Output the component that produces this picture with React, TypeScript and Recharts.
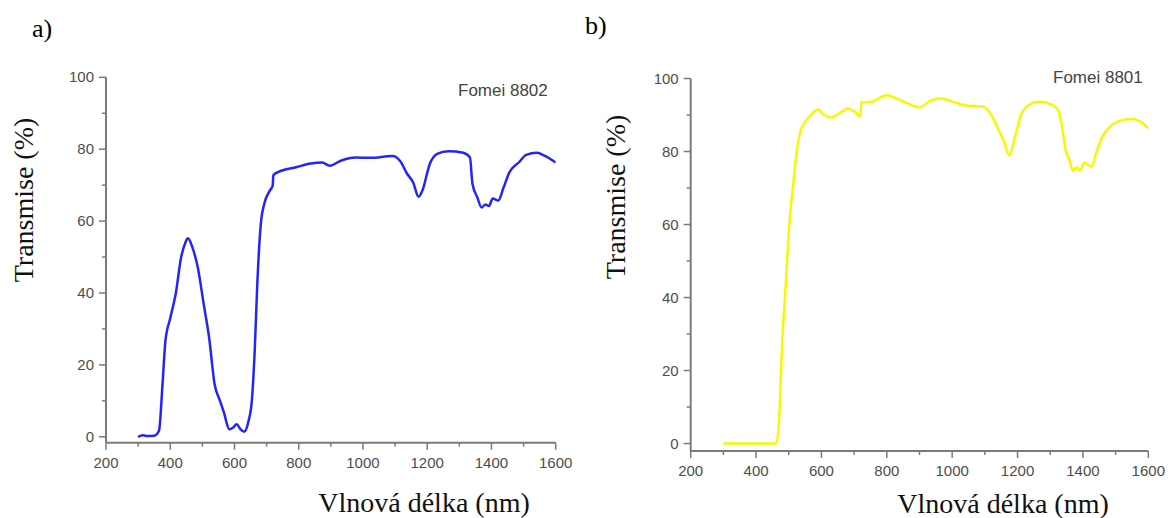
import React from 'react';
import { LineChart, Line, XAxis, YAxis } from 'recharts';

// Fomei 8802 (blue) - wavelength (nm) / transmission (%)
const nm8802 = [
  300, 315, 330, 350, 365, 376, 385, 400, 417, 434, 447, 455, 469, 486, 504, 521, 538, 555, 567, 584,
  595, 607, 618, 630, 644, 654, 663, 671, 682, 694, 711, 719, 721, 746, 792, 838, 873, 896, 931, 977,
  1023, 1092, 1115, 1138, 1156, 1173, 1185, 1208, 1231, 1266, 1312, 1333, 1341, 1356, 1369, 1381, 1392,
  1404, 1421, 1438, 1456, 1485, 1508, 1542, 1565, 1600,
];
const t8802 = [
  0, 0.4, 0.2, 0.3, 1.7, 14.7, 26.7, 33, 39.7, 50, 54, 55.2, 52.7, 47, 37, 27.6, 14.7, 10, 6.8, 2.1,
  2.5, 3.5, 2.2, 1.4, 4.5, 10, 24, 42.5, 59.2, 65.2, 68.6, 69.9, 72.8, 74, 75, 76, 76.3, 75.4, 76.8, 77.7,
  77.6, 78.1, 76.8, 73.1, 70.8, 66.8, 68.5, 75.9, 78.7, 79.4, 79, 77.7, 70.3, 66.6, 63.8, 64.6, 64.2,
  66.3, 65.7, 69.4, 73.6, 76.3, 78.4, 79, 78.2, 76.3,
];

// Fomei 8801 (yellow)
const nm8801 = [
  300, 462, 471, 479, 491, 502, 514, 525, 537, 554, 571, 589, 609, 629, 657, 680, 698, 719, 722, 755,
  784, 801, 830, 864, 899, 933, 968, 1002, 1037, 1094, 1117, 1140, 1157, 1175, 1192, 1215, 1244, 1267,
  1301, 1324, 1336, 1347, 1359, 1370, 1382, 1391, 1405, 1426, 1440, 1457, 1485, 1520, 1548, 1577, 1600,
];
const t8801 = [
  0, 0, 7.5, 25.7, 44, 60.3, 71.3, 80.4, 85.9, 88.6, 90.4, 91.5, 90, 89.3, 90.6, 91.8, 91.1, 89.7, 93.4, 93.6,
  95, 95.4, 94.5, 93.2, 92.1, 93.9, 94.5, 93.6, 92.7, 92.3, 90.4, 86.3, 83.1, 79, 84, 90.9, 93.2, 93.6,
  93, 91.3, 86.8, 80.4, 77.7, 74.7, 75.7, 74.7, 77, 75.8, 79.5, 83.6, 87, 88.6, 88.9, 88.2, 86.3,
];

const xTicks = [200, 300, 400, 500, 600, 700, 800, 900, 1000, 1100, 1200, 1300, 1400, 1500, 1600];
const yTicks = [0, 10, 20, 30, 40, 50, 60, 70, 80, 90, 100];

const dataA = nm8802.map((nm, i) => ({ nm, t: t8802[i] }));
const dataB = nm8801.map((nm, i) => ({ nm, t: t8801[i] }));

const AXIS = '#7a7a7a';
const TICK_TEXT = '#4d4d4d';
const SANS = "'Liberation Sans', Arial, sans-serif";
const SERIF = "'Liberation Serif', 'DejaVu Serif', serif";

const serifStyle = { fontFamily: SERIF };
const sansStyle = { fontFamily: SANS };

const XTick = (props: any) => {
  const { x, y, payload } = props;
  const major = payload.value % 200 === 0;
  return (
    <g>
      <line x1={x} x2={x} y1={y} y2={y + (major ? 7 : 4)} stroke={AXIS} strokeWidth={1.5} />
      {major && (
        <text x={x} y={y + 25} textAnchor="middle" fontSize={15} style={sansStyle} fill={TICK_TEXT}>
          {payload.value}
        </text>
      )}
    </g>
  );
};

const YTick = (props: any) => {
  const { x, y, payload } = props;
  const major = payload.value % 20 === 0;
  return (
    <g>
      <line x1={x - (major ? 7 : 4)} x2={x} y1={y} y2={y} stroke={AXIS} strokeWidth={1.5} />
      {major && (
        <text x={x - 12} y={y + 5} textAnchor="end" fontSize={15} style={sansStyle} fill={TICK_TEXT}>
          {payload.value}
        </text>
      )}
    </g>
  );
};

const Panel = ({ data, color, width, margin, yWidth, yMin }: any) => (
  <LineChart width={width} height={518} data={data} margin={margin}>
    <XAxis
      dataKey="nm"
      type="number"
      domain={[200, 1600]}
      ticks={xTicks}
      interval={0}
      height={30}
      tickSize={0}
      tickMargin={0}
      tickLine={false}
      tick={<XTick />}
      axisLine={{ stroke: AXIS, strokeWidth: 2 }}
      allowDataOverflow
    />
    <YAxis
      type="number"
      domain={[yMin, 100]}
      ticks={yTicks}
      interval={0}
      width={yWidth}
      tickSize={0}
      tickMargin={0}
      tickLine={false}
      tick={<YTick />}
      axisLine={{ stroke: AXIS, strokeWidth: 2 }}
      allowDataOverflow
    />
    <Line
      type="monotone"
      dataKey="t"
      stroke={color}
      strokeWidth={2.5}
      dot={false}
      isAnimationActive={false}
    />
  </LineChart>
);

export default function App() {
  return (
    <div style={{ position: 'absolute', left: 0, top: 0, width: 1170, height: 518, background: '#fff' }}>
      <div style={{ position: 'absolute', left: 0, top: 0 }}>
        <Panel
          data={dataA}
          color="#2323ff"
          width={580}
          yWidth={106}
          yMin={-1.64}
          margin={{ top: 77.3, right: 24.3, bottom: 45.3, left: 0 }}
        />
      </div>
      <div style={{ position: 'absolute', left: 580, top: 0 }}>
        <Panel
          data={dataB}
          color="#f8f800"
          width={590}
          yWidth={110.7}
          yMin={-2.05}
          margin={{ top: 78.5, right: 21.7, bottom: 37, left: 0 }}
        />
      </div>
      <svg
        width={1170}
        height={518}
        style={{ position: 'absolute', left: 0, top: 0, pointerEvents: 'none' }}
      >
        <text x={32} y={37} fontSize={26} style={serifStyle} fill="#000">a)</text>
        <text x={585} y={34} fontSize={26} style={serifStyle} fill="#000">b)</text>

        <text x={458} y={96} fontSize={17} style={sansStyle} fill="#444">Fomei 8802</text>
        <text x={1053} y={83} fontSize={17} style={sansStyle} fill="#444">Fomei 8801</text>

        <text
          x={33}
          y={200}
          fontSize={28}
          style={serifStyle}
          fill="#111"
          textAnchor="middle"
          transform="rotate(-90 33 200)"
        >
          Transmise (%)
        </text>
        <text
          x={625}
          y={197}
          fontSize={28}
          style={serifStyle}
          fill="#111"
          textAnchor="middle"
          transform="rotate(-90 625 197)"
        >
          Transmise (%)
        </text>

        <text x={424} y={512} fontSize={28} style={serifStyle} fill="#111" textAnchor="middle">
          Vlnová délka (nm)
        </text>
        <text x={1003} y={513} fontSize={28} style={serifStyle} fill="#111" textAnchor="middle">
          Vlnová délka (nm)
        </text>
      </svg>
    </div>
  );
}
